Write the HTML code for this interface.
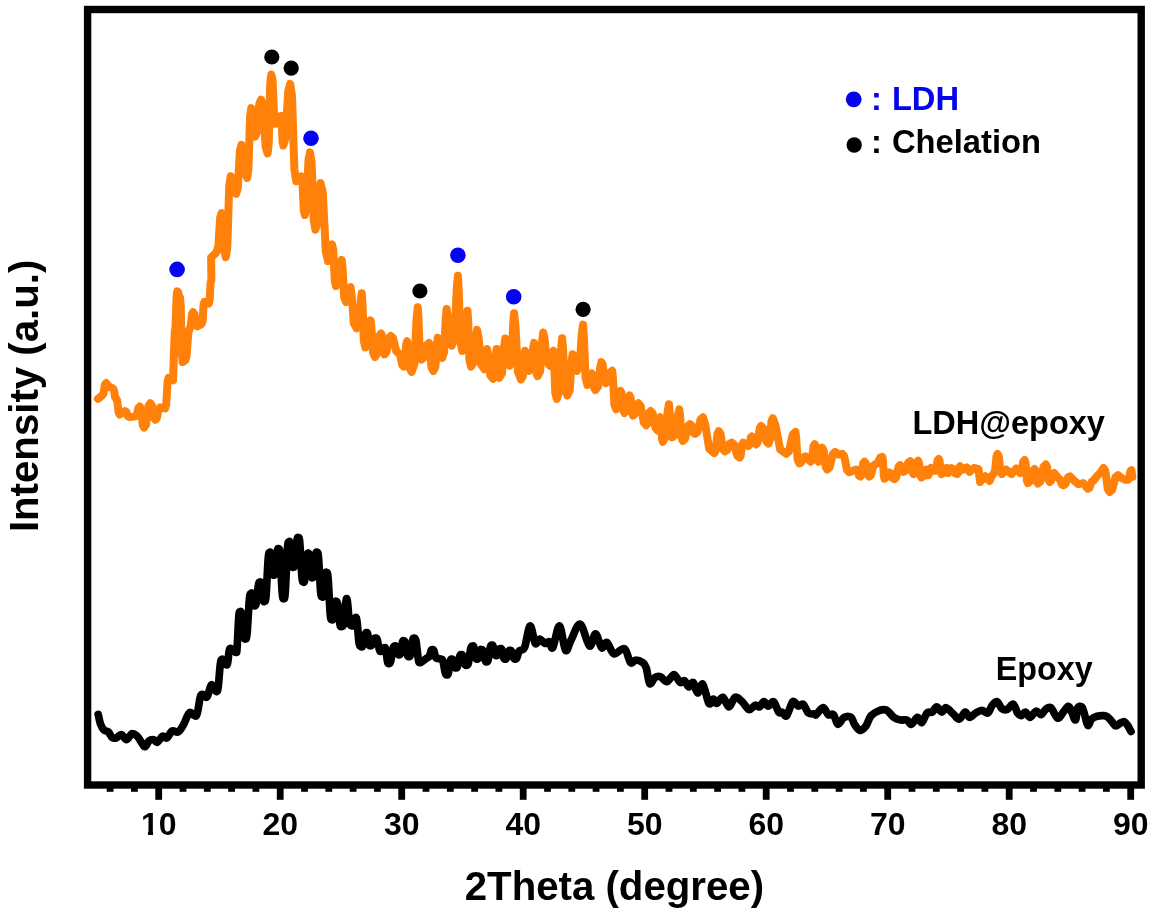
<!DOCTYPE html>
<html><head><meta charset="utf-8"><title>XRD</title>
<style>
html,body{margin:0;padding:0;background:#fff;overflow:hidden;}
svg{display:block;}
text{font-family:"Liberation Sans",Arial,Helvetica,sans-serif;font-weight:bold;fill:#000;}
</style></head><body>
<svg width="1162" height="916" viewBox="0 0 1162 916">
<rect width="1162" height="916" fill="#fff"/>
<path d="M98.2 714.4C98.6 716.0 99.5 721.4 100.5 724.0C101.4 726.6 102.7 728.8 104.0 730.1C105.3 731.4 107.0 730.7 108.3 731.9C109.7 733.0 110.5 736.1 111.8 737.1C113.1 738.1 114.6 738.4 116.2 738.0C117.8 737.6 119.7 734.2 121.4 734.5C123.2 734.8 124.9 739.9 126.7 739.7C128.4 739.6 130.2 734.2 131.9 733.6C133.7 733.0 135.6 734.8 137.2 736.2C138.8 737.7 140.2 740.6 141.5 742.4C142.8 744.1 143.7 747.0 145.0 746.7C146.3 746.4 147.9 741.8 149.4 740.6C150.8 739.4 152.4 739.4 153.8 739.7C155.1 740.0 155.8 742.9 157.2 742.4C158.7 741.8 160.9 737.0 162.5 736.2C164.1 735.5 165.3 738.9 166.9 738.0C168.5 737.1 170.2 732.0 172.1 731.0C174.0 730.0 176.3 732.9 178.2 731.9C180.1 730.9 181.6 728.1 183.4 724.9C185.3 721.7 187.4 714.3 189.6 712.7C191.7 711.1 194.7 718.2 196.6 715.3C198.4 712.4 199.2 698.3 200.9 695.2C202.7 692.1 205.3 698.7 207.0 696.9C208.8 695.2 209.7 685.7 211.4 684.7C213.1 683.7 215.9 694.9 217.5 690.8C219.1 686.8 219.4 664.6 221.0 660.3C222.6 655.9 225.7 666.5 227.1 664.6C228.6 662.7 228.3 650.9 229.7 648.9C231.2 646.9 234.6 652.6 235.9 652.4C237.1 652.2 236.6 653.5 237.1 647.5C237.6 641.6 238.3 622.6 238.8 616.6C239.3 610.6 239.6 612.0 240.1 611.7C240.6 611.4 241.0 611.0 241.7 615.0C242.3 619.0 243.1 631.6 243.8 635.6C244.4 639.6 244.8 639.2 245.3 638.9C245.9 638.5 246.4 640.1 247.1 633.4C247.7 626.7 248.7 605.5 249.4 598.8C250.0 592.2 250.6 594.0 251.1 593.4C251.6 592.7 251.8 593.0 252.2 594.9C252.7 596.7 253.3 602.4 253.8 604.2C254.2 606.0 254.5 605.9 254.9 605.7C255.4 605.4 255.8 606.3 256.4 602.8C257.0 599.4 257.8 588.3 258.4 584.9C258.9 581.4 259.3 582.1 259.8 582.0C260.3 581.9 260.7 581.5 261.2 584.3C261.8 587.2 262.6 596.2 263.1 599.0C263.7 601.8 264.0 601.9 264.5 601.3C265.0 600.7 265.5 602.6 266.1 595.4C266.7 588.2 267.6 565.4 268.2 558.2C268.8 551.0 269.3 552.9 269.8 552.3C270.3 551.8 270.6 551.7 271.1 555.1C271.6 558.4 272.3 569.0 272.8 572.4C273.3 575.7 273.7 575.2 274.1 575.1C274.6 575.0 274.9 575.8 275.5 571.9C276.0 568.1 276.7 555.8 277.2 552.0C277.7 548.1 278.0 548.4 278.5 548.8C279.0 549.3 279.5 547.5 280.1 554.8C280.7 562.1 281.6 585.4 282.2 592.7C282.8 600.0 283.2 598.8 283.8 598.7C284.3 598.5 284.7 600.2 285.3 591.9C285.9 583.5 286.8 557.0 287.4 548.7C288.0 540.3 288.5 542.5 289.0 541.8C289.5 541.2 289.8 541.2 290.3 544.9C290.8 548.6 291.5 560.5 292.1 564.2C292.6 567.9 292.9 567.3 293.4 567.2C293.8 567.1 294.3 568.0 294.8 563.7C295.4 559.3 296.2 545.4 296.8 541.1C297.4 536.7 297.7 537.2 298.3 537.5C298.8 537.8 299.2 536.3 299.8 542.8C300.4 549.4 301.3 570.2 301.9 576.7C302.5 583.3 303.0 581.8 303.5 582.1C304.0 582.4 304.4 582.9 304.9 578.6C305.5 574.4 306.2 560.9 306.8 556.7C307.3 552.4 307.8 553.3 308.2 553.2C308.6 553.1 308.9 552.5 309.4 556.1C309.9 559.7 310.6 571.2 311.0 574.8C311.5 578.4 311.8 577.7 312.2 577.7C312.7 577.7 313.1 578.4 313.6 574.7C314.2 570.9 315.0 559.1 315.5 555.4C316.1 551.7 316.4 551.9 316.9 552.3C317.4 552.7 317.9 551.1 318.5 557.7C319.1 564.2 320.0 585.0 320.6 591.6C321.2 598.1 321.7 596.5 322.2 596.9C322.7 597.3 323.0 597.6 323.5 594.0C324.0 590.4 324.7 579.0 325.2 575.4C325.7 571.8 326.1 572.0 326.6 572.4C327.0 572.9 327.5 571.2 328.1 578.1C328.7 585.0 329.6 607.0 330.2 614.0C330.8 620.9 331.3 619.1 331.8 619.6C332.3 620.2 332.6 620.1 333.1 617.4C333.6 614.7 334.3 606.1 334.8 603.4C335.4 600.7 335.7 601.1 336.2 601.2C336.6 601.4 337.1 600.6 337.7 604.3C338.3 608.0 339.2 619.9 339.8 623.6C340.4 627.3 340.7 626.7 341.4 626.6C342.1 626.6 343.1 627.0 343.8 623.3C344.5 619.5 345.1 608.3 345.6 604.2C346.1 600.1 346.3 598.6 346.6 598.6C347.0 598.6 347.2 600.1 347.7 604.0C348.2 608.0 348.8 618.9 349.5 622.5C350.2 626.1 351.3 625.4 351.9 625.8C352.5 626.1 352.7 626.0 353.2 624.8C353.7 623.6 354.4 619.9 354.9 618.8C355.4 617.6 355.9 617.0 356.2 617.8C356.6 618.6 356.8 619.4 357.3 623.6C357.8 627.8 358.4 639.4 359.1 643.2C359.8 647.1 360.8 646.4 361.5 646.7C362.1 647.0 362.4 647.1 363.1 645.0C363.7 643.0 364.5 636.4 365.2 634.4C365.8 632.3 366.3 632.7 366.7 632.7C367.2 632.7 367.4 632.3 367.8 634.3C368.2 636.2 368.8 642.3 369.2 644.3C369.6 646.2 369.8 645.7 370.2 645.8C370.7 645.9 371.2 646.0 371.9 644.9C372.5 643.8 373.4 640.2 374.1 639.1C374.7 637.9 375.2 638.0 375.7 638.1C376.3 638.2 376.7 637.8 377.3 639.7C377.9 641.6 378.8 647.8 379.4 649.7C380.0 651.6 380.1 651.6 381.0 651.3C381.8 651.0 383.7 648.0 384.5 647.7C385.3 647.5 385.3 647.3 385.8 649.6C386.3 652.0 387.0 659.3 387.5 661.6C388.0 663.9 388.3 663.6 388.8 663.5C389.3 663.5 389.9 664.0 390.7 661.4C391.4 658.8 392.4 650.7 393.1 648.1C393.8 645.5 394.4 646.2 394.9 646.0C395.5 645.8 395.7 645.8 396.2 647.1C396.8 648.3 397.5 652.4 398.0 653.7C398.5 655.0 398.9 654.9 399.3 654.8C399.7 654.7 400.1 655.2 400.6 653.1C401.1 651.0 401.8 644.5 402.4 642.4C402.9 640.4 403.2 640.7 403.7 640.8C404.1 640.8 404.6 640.3 405.2 642.6C405.9 645.0 406.7 652.3 407.3 654.6C407.9 657.0 408.4 656.6 408.9 656.5C409.4 656.5 409.9 657.0 410.5 654.3C411.1 651.6 412.0 643.0 412.6 640.3C413.2 637.6 413.6 638.0 414.1 638.1C414.7 638.3 415.3 637.5 416.0 641.1C416.7 644.7 417.7 656.1 418.4 659.7C419.1 663.3 419.1 662.8 420.3 662.7C421.4 662.5 424.2 660.0 425.5 659.1C426.8 658.2 427.5 657.8 428.1 657.4C428.8 657.0 428.9 657.6 429.4 656.5C429.9 655.3 430.7 651.6 431.2 650.4C431.7 649.3 432.1 649.5 432.5 649.5C432.9 649.5 433.3 649.3 433.8 650.5C434.3 651.8 435.0 655.9 435.5 657.2C436.1 658.5 435.9 658.0 436.9 658.3C437.8 658.6 440.2 658.6 441.2 659.1C442.2 659.5 442.3 658.7 443.0 661.0C443.6 663.3 444.6 670.7 445.3 673.0C445.9 675.3 446.5 674.9 447.0 674.9C447.5 674.9 447.9 675.3 448.4 673.0C449.0 670.7 449.7 663.3 450.3 661.0C450.8 658.7 451.2 659.2 451.7 659.1C452.2 659.0 452.5 658.9 453.0 660.2C453.5 661.4 454.3 665.5 454.8 666.8C455.3 668.1 455.6 668.0 456.1 667.9C456.6 667.8 457.0 668.2 457.6 666.3C458.3 664.4 459.1 658.2 459.7 656.3C460.3 654.4 460.8 654.8 461.3 654.7C461.8 654.7 462.3 654.4 462.9 656.0C463.5 657.5 464.4 662.5 465.0 664.0C465.6 665.6 466.0 665.4 466.6 665.3C467.1 665.1 467.7 665.8 468.4 663.0C469.1 660.1 470.1 651.1 470.8 648.3C471.5 645.5 472.1 646.1 472.7 646.0C473.2 645.9 473.5 645.6 474.0 647.6C474.5 649.5 475.2 655.6 475.7 657.6C476.2 659.5 476.6 659.1 477.0 659.2C477.5 659.2 477.8 659.4 478.3 658.0C478.9 656.6 479.6 652.1 480.1 650.6C480.6 649.2 480.9 649.4 481.4 649.5C481.9 649.5 482.4 649.2 483.0 651.0C483.6 652.8 484.5 658.5 485.1 660.3C485.7 662.1 486.1 661.9 486.6 661.8C487.2 661.7 487.6 662.2 488.2 659.8C488.8 657.3 489.7 649.6 490.3 647.1C490.9 644.7 491.4 645.2 491.9 645.1C492.4 645.0 492.7 644.8 493.2 646.4C493.7 647.9 494.4 652.9 494.9 654.4C495.4 655.9 495.8 655.6 496.2 655.7C496.7 655.7 497.0 655.9 497.6 654.8C498.1 653.8 498.8 650.5 499.3 649.5C499.8 648.4 500.2 648.5 500.6 648.6C501.0 648.7 501.4 648.3 501.9 649.9C502.4 651.4 503.2 656.3 503.7 657.9C504.2 659.4 504.5 659.1 505.0 659.2C505.4 659.2 505.9 659.4 506.5 658.1C507.1 656.8 507.9 652.7 508.5 651.4C509.1 650.1 509.5 650.4 510.0 650.3C510.5 650.3 511.0 650.1 511.6 651.4C512.2 652.7 513.1 656.8 513.7 658.0C514.3 659.3 514.7 659.1 515.2 659.1C515.8 659.1 516.2 659.3 516.8 658.0C517.4 656.8 518.3 652.7 518.9 651.4C519.5 650.1 519.5 651.1 520.5 650.3C521.5 649.6 523.2 650.9 524.8 646.9C526.4 642.8 528.3 626.5 530.1 625.9C531.8 625.3 533.7 641.2 535.3 643.4C536.9 645.5 538.1 639.0 539.7 639.0C541.3 639.0 543.3 642.9 544.9 643.4C546.5 643.8 548.0 640.9 549.3 641.6C550.6 642.3 551.1 650.3 552.8 647.7C554.5 645.1 557.3 625.5 559.4 625.9C561.6 626.3 563.6 648.0 565.5 650.3C567.5 652.7 568.7 644.2 571.1 639.9C573.6 635.5 577.2 623.1 580.2 624.1C583.3 625.2 586.9 644.4 589.5 646.0C592.0 647.6 593.6 633.5 595.6 633.8C597.6 634.0 599.8 646.3 601.7 647.7C603.6 649.2 604.9 641.5 606.9 642.5C609.0 643.5 611.0 652.8 613.9 653.8C616.8 654.9 621.6 647.1 624.4 648.6C627.2 650.1 628.6 660.7 630.5 662.6C632.4 664.5 633.7 660.0 635.8 660.0C637.8 660.0 641.0 661.3 642.8 662.6C644.5 663.9 645.1 664.3 646.2 667.8C647.4 671.3 648.3 681.9 649.7 683.5C651.2 685.1 653.2 678.6 655.0 677.4C656.7 676.3 658.2 675.9 660.2 676.6C662.2 677.2 664.7 681.9 667.0 681.6C669.3 681.3 671.8 674.5 674.0 674.6C676.2 674.8 678.3 681.5 680.1 682.5C681.8 683.5 683.0 680.0 684.5 680.7C685.9 681.5 687.4 686.6 688.8 686.9C690.3 687.1 691.7 681.5 693.2 682.5C694.6 683.5 696.0 692.7 697.6 693.0C699.2 693.3 700.9 682.5 702.8 684.2C704.7 686.0 707.2 701.0 708.9 703.4C710.7 705.9 712.0 699.1 713.3 699.1C714.6 699.1 715.2 703.7 716.8 703.4C718.4 703.2 720.8 696.8 722.9 697.3C724.9 697.9 727.0 706.9 729.0 706.9C731.0 706.9 732.9 698.2 735.1 697.3C737.3 696.5 739.8 699.7 742.1 701.7C744.4 703.7 746.9 709.0 749.1 709.6C751.3 710.1 753.4 705.6 755.2 705.2C756.9 704.8 758.1 707.5 759.6 706.9C761.0 706.4 762.5 701.8 763.9 701.7C765.4 701.6 766.7 706.1 768.3 706.1C769.9 706.1 771.8 700.7 773.5 701.7C775.3 702.7 777.3 710.4 778.8 712.2C780.2 713.9 781.0 711.6 782.3 712.2C783.6 712.8 784.9 717.4 786.6 715.7C788.4 713.9 790.9 703.3 792.8 701.7C794.6 700.1 796.2 705.6 798.0 706.1C799.7 706.5 801.5 703.2 803.2 704.3C805.0 705.5 806.4 711.5 808.5 713.1C810.5 714.7 814.2 713.7 815.5 713.9C816.7 714.2 814.8 715.7 816.1 714.7C817.4 713.7 821.1 707.7 823.1 707.7C825.1 707.7 826.6 713.6 828.3 714.7C830.1 715.9 832.0 713.1 833.6 714.7C835.2 716.3 836.2 723.9 837.9 724.3C839.7 724.8 841.9 718.5 844.1 717.3C846.2 716.2 849.3 716.2 851.0 717.3C852.8 718.5 853.1 722.1 854.5 724.3C856.0 726.5 857.9 730.1 859.8 730.4C861.7 730.7 864.0 728.5 865.9 726.1C867.8 723.6 868.8 718.2 871.1 715.6C873.5 713.0 877.2 711.2 879.9 710.3C882.5 709.5 884.5 709.2 886.9 710.3C889.2 711.5 891.5 715.7 893.8 717.3C896.2 718.9 898.6 719.5 900.8 720.0C903.0 720.4 905.2 719.2 906.9 720.0C908.7 720.7 909.6 724.8 911.3 724.3C913.1 723.9 915.7 717.6 917.4 717.3C919.2 717.0 920.2 723.3 921.8 722.6C923.4 721.8 925.3 714.7 927.0 713.0C928.8 711.2 930.7 713.1 932.3 712.1C933.9 711.1 935.0 706.9 936.6 706.9C938.2 706.9 940.3 712.0 941.9 712.1C943.5 712.2 944.4 707.4 946.2 707.7C948.1 708.0 951.0 712.0 953.2 713.8C955.4 715.7 957.3 719.4 959.3 719.1C961.3 718.8 963.5 712.4 965.2 712.1C967.0 711.8 967.9 717.2 969.6 717.3C971.4 717.5 973.7 714.1 975.7 713.0C977.8 711.8 979.8 710.3 981.8 710.3C983.9 710.3 986.2 713.8 987.9 713.0C989.7 712.1 990.8 707.0 992.3 705.1C993.8 703.2 995.4 701.0 997.0 701.6C998.6 702.2 1000.2 707.3 1001.9 708.6C1003.6 709.9 1005.3 710.2 1007.2 709.5C1009.1 708.7 1011.5 703.7 1013.3 704.2C1015.0 704.8 1016.3 711.1 1017.6 713.0C1019.0 714.9 1019.8 715.7 1021.1 715.6C1022.4 715.4 1024.0 711.8 1025.5 712.1C1027.0 712.4 1028.1 717.5 1029.9 717.3C1031.6 717.2 1034.1 711.7 1036.0 711.2C1037.9 710.8 1039.6 715.0 1041.2 714.7C1042.8 714.4 1044.0 710.6 1045.6 709.5C1047.2 708.3 1048.8 706.3 1050.8 707.7C1052.9 709.2 1055.6 717.6 1057.8 718.2C1060.0 718.8 1062.0 713.1 1063.9 711.2C1065.8 709.3 1067.3 705.4 1069.2 706.9C1071.1 708.3 1073.9 719.8 1075.3 720.0C1076.7 720.2 1076.4 710.2 1077.5 708.0C1078.6 705.9 1080.7 705.9 1081.8 706.9C1083.0 708.0 1083.6 711.5 1084.6 714.6C1085.6 717.7 1086.7 724.8 1087.8 725.5C1089.0 726.2 1090.1 720.5 1091.7 719.0C1093.2 717.4 1095.1 716.8 1097.1 716.2C1099.1 715.7 1101.8 715.5 1103.7 715.7C1105.5 715.9 1106.6 716.2 1108.0 717.3C1109.5 718.4 1111.1 720.8 1112.4 722.2C1113.7 723.7 1114.4 725.9 1115.7 726.0C1117.0 726.2 1118.6 724.0 1120.0 723.3C1121.5 722.6 1123.1 721.3 1124.4 721.7C1125.7 722.0 1126.6 723.9 1127.7 725.5C1128.8 727.1 1130.4 730.5 1131.0 731.5" fill="none" stroke="#000" stroke-width="7.7" stroke-linejoin="round" stroke-linecap="round"/>
<path d="M97.9 398.8 L102.2 395.3 L103.4 393.8 L104.9 384.5 L106.1 383.1 L109.2 386.6 L112.7 388.3 L113.8 389.6 L115.2 397.5 L116.2 398.8 L117.2 400.7 L118.6 412.6 L119.7 414.5 L124.9 411.0 L126.2 411.7 L128.0 416.4 L129.3 417.1 L135.4 416.2 L136.7 415.1 L138.5 407.8 L139.8 406.6 L141.1 409.2 L142.8 425.1 L144.1 427.6 L146.0 424.7 L148.4 406.1 L150.3 403.1 L151.8 405.1 L153.9 417.7 L155.5 419.7 L156.8 418.3 L158.6 409.0 L159.9 407.5 L165.1 408.4 L166.2 404.7 L167.6 381.5 L168.6 377.8 L173.0 380.4 L174.7 332.4 L175.5 327.5 L176.6 296.3 L177.3 291.4 L178.1 292.1 L179.2 296.7 L180.0 297.5 L180.7 305.2 L181.8 354.3 L182.6 362.1 L185.2 360.3 L186.5 356.6 L188.3 332.7 L189.6 328.9 L190.6 326.9 L192.0 314.3 L193.1 312.3 L194.4 314.0 L196.1 324.6 L197.4 326.3 L201.8 323.7 L202.6 321.0 L203.6 304.5 L204.4 301.8 L208.8 303.6 L209.6 300.8 L210.6 282.8 L211.4 280.0 L211.1 257.5 L215.8 253.1 L217.0 250.5 L218.4 246.0 L220.2 217.5 L221.6 213.0 L222.9 218.3 L224.5 251.9 L225.8 257.2 L227.3 247.5 L229.2 186.0 L230.7 176.3 L232.3 178.4 L234.5 191.7 L236.2 193.8 L237.8 187.9 L239.9 150.7 L241.5 144.8 L243.2 148.8 L245.5 174.0 L247.2 178.0 L248.4 169.6 L250.1 116.5 L251.3 108.1 L252.5 111.5 L254.0 133.2 L255.2 136.6 L257.0 132.2 L259.3 104.0 L261.1 99.6 L263.1 106.0 L265.7 146.9 L267.6 153.3 L268.7 143.8 L270.2 84.0 L271.3 74.5 L272.6 80.4 L274.2 117.9 L275.5 123.8 L277.1 122.9 L279.1 116.9 L280.7 116.0 L281.5 119.5 L282.6 142.0 L283.4 145.5 L285.4 138.1 L288.2 91.3 L290.2 83.9 L292.0 95.6 L294.4 169.5 L296.2 181.2 L301.4 176.5 L302.4 181.1 L303.8 210.4 L304.9 215.0 L306.4 207.5 L308.5 159.9 L310.0 152.4 L311.6 161.7 L313.8 220.3 L315.4 229.6 L317.0 224.0 L319.0 188.8 L320.6 183.2 L322.8 192.5 L325.8 251.7 L328.0 261.0 L329.2 259.0 L330.8 246.4 L332.0 244.4 L333.2 249.4 L334.8 281.0 L336.0 286.0 L337.7 282.9 L340.0 263.1 L341.7 260.0 L342.6 268.4 L344.1 297.0 L346.1 302.0 L347.4 300.2 L349.2 288.9 L350.5 287.1 L351.7 295.3 L353.8 323.3 L356.6 328.2 L359.0 324.0 L360.8 300.2 L361.8 293.2 L362.5 304.0 L363.8 340.9 L365.3 347.4 L367.7 344.2 L369.5 325.7 L370.6 320.3 L371.4 327.6 L373.0 352.6 L374.9 357.0 L376.8 354.2 L379.2 336.2 L381.0 333.4 L382.1 335.9 L383.5 351.9 L384.5 354.4 L386.4 352.2 L388.8 338.2 L390.7 336.0 L393.0 338.0 L396.2 351.0 L398.5 353.1 L400.1 354.7 L402.2 365.0 L403.8 366.6 L404.8 363.6 L406.2 344.3 L407.2 341.2 L408.1 347.4 L409.7 368.2 L411.6 371.9 L414.4 364.1 L416.5 320.1 L417.7 307.2 L418.5 317.7 L419.8 353.3 L421.6 359.6 L423.8 357.6 L426.8 345.0 L429.1 343.0 L430.0 348.6 L431.5 367.6 L433.4 371.0 L435.4 367.0 L436.9 344.4 L437.8 337.7 L439.1 340.2 L440.9 355.5 L442.2 357.9 L444.1 352.0 L445.7 318.7 L446.6 308.9 L447.6 316.3 L449.4 341.3 L451.8 345.7 L454.5 337.3 L456.7 289.7 L457.9 275.7 L458.8 290.8 L460.3 341.9 L462.3 350.9 L464.6 346.1 L466.5 318.7 L467.5 310.7 L468.2 321.9 L469.4 359.9 L471.0 366.6 L473.8 362.2 L475.9 337.2 L477.1 329.9 L478.6 337.7 L481.1 364.4 L484.4 369.2 L485.2 366.7 L486.2 351.4 L487.0 349.0 L488.2 355.0 L490.3 375.2 L493.1 378.8 L494.7 375.2 L495.9 355.0 L496.6 349.0 L497.1 354.8 L498.0 374.4 L499.2 377.9 L502.0 373.2 L504.1 346.4 L505.3 338.5 L506.2 344.0 L507.7 362.4 L509.7 365.7 L511.7 359.4 L513.2 323.7 L514.1 313.2 L515.5 326.5 L517.9 371.7 L521.0 379.6 L522.9 376.2 L524.3 356.5 L525.1 350.8 L526.2 353.2 L527.8 368.5 L528.9 370.9 L531.3 367.5 L533.1 348.5 L534.1 342.9 L534.8 349.5 L536.1 372.2 L537.6 376.1 L540.2 370.9 L542.1 341.2 L543.2 332.4 L544.6 339.1 L546.9 361.7 L549.9 365.7 L550.9 363.9 L552.3 352.5 L553.4 350.8 L554.1 360.4 L555.3 393.1 L556.9 398.9 L559.2 391.6 L561.0 350.3 L562.1 338.2 L563.1 349.6 L565.0 388.5 L567.3 395.4 L569.7 390.4 L571.5 362.5 L572.6 354.2 L573.9 356.2 L575.6 368.9 L576.9 370.9 L579.7 365.3 L581.8 333.8 L583.1 324.6 L583.9 336.6 L585.5 377.6 L587.4 384.9 L588.7 383.5 L590.5 374.8 L591.8 373.5 L592.8 375.5 L594.2 388.1 L595.3 390.1 L598.0 386.8 L600.2 367.7 L601.4 362.1 L602.7 364.6 L604.5 380.6 L605.8 383.1 L607.7 381.7 L610.3 372.3 L612.2 370.8 L613.0 378.5 L614.4 404.7 L616.2 409.3 L617.6 407.1 L619.3 393.1 L620.6 390.9 L621.7 393.6 L623.2 410.3 L624.4 413.0 L625.9 410.9 L628.0 397.5 L629.6 395.4 L630.7 397.8 L632.1 413.2 L633.1 415.6 L634.7 414.1 L636.8 404.8 L638.3 403.3 L640.7 405.9 L643.8 422.6 L646.2 425.2 L647.5 423.5 L649.3 412.8 L650.6 411.1 L652.7 413.5 L655.5 428.1 L657.6 430.4 L658.3 428.8 L659.4 418.8 L660.2 417.3 L661.0 420.2 L662.0 438.8 L662.8 441.8 L665.5 437.3 L667.7 411.7 L668.9 404.2 L669.6 410.8 L670.8 433.4 L672.4 437.4 L675.5 434.0 L678.0 415.0 L679.4 409.4 L680.1 415.7 L681.3 437.1 L682.9 440.9 L685.0 438.9 L687.8 426.2 L689.9 424.2 L691.4 425.4 L693.5 432.8 L695.1 433.9 L697.5 431.9 L700.6 419.3 L703.0 417.3 L705.2 424.4 L709.2 448.8 L714.3 453.1 L715.6 450.5 L717.4 433.9 L718.7 431.2 L720.5 433.7 L723.0 449.0 L724.8 451.4 L726.9 450.3 L729.7 443.6 L731.8 442.6 L734.1 444.4 L737.3 455.7 L739.7 457.5 L740.7 455.7 L742.1 444.4 L743.1 442.6 L748.4 446.1 L749.4 445.0 L750.8 437.6 L751.9 436.5 L753.2 437.4 L754.9 443.4 L756.2 444.4 L757.7 442.2 L759.7 428.2 L761.1 426.0 L763.3 428.1 L766.3 441.4 L768.5 443.5 L769.8 440.5 L771.5 421.2 L772.8 418.1 L775.5 425.3 L780.2 449.5 L786.2 453.8 L789.0 451.2 L792.7 434.6 L795.5 431.9 L796.2 438.2 L797.6 459.7 L799.3 463.4 L801.1 462.6 L803.6 457.2 L805.4 456.4 L810.7 461.7 L811.9 459.6 L813.5 446.3 L814.7 444.2 L815.8 446.3 L817.4 459.6 L818.5 461.7 L819.6 460.0 L821.0 449.3 L822.0 447.7 L823.6 450.3 L825.7 466.9 L827.2 469.5 L829.6 467.4 L832.8 454.1 L835.1 452.0 L838.6 454.7 L842.1 453.8 L844.2 456.0 L847.0 470.0 L849.1 472.2 L856.1 469.5 L857.4 470.3 L859.1 475.7 L860.4 476.5 L861.6 474.7 L863.2 463.4 L864.5 461.6 L865.9 463.4 L867.8 474.7 L869.2 476.5 L871.0 475.1 L873.4 465.7 L875.3 464.2 L877.4 463.4 L880.2 457.7 L882.2 456.8 L882.9 459.4 L883.8 476.0 L884.5 478.6 L885.8 477.9 L887.6 473.2 L889.0 472.4 L890.6 473.2 L892.9 478.4 L894.5 479.2 L896.2 477.5 L898.5 466.8 L900.1 465.2 L901.1 466.0 L902.5 471.1 L903.5 471.9 L905.5 470.6 L908.2 462.5 L910.2 461.2 L911.2 462.8 L912.6 472.6 L913.6 474.1 L914.9 472.5 L916.7 462.3 L918.0 460.7 L919.0 462.7 L920.4 475.5 L921.4 477.5 L922.7 476.6 L924.5 470.6 L925.9 469.6 L928.1 475.3 L928.9 474.4 L930.1 468.8 L930.9 468.0 L934.8 470.8 L936.0 469.4 L937.6 460.4 L938.7 459.0 L939.6 460.8 L940.7 472.3 L941.5 474.1 L942.9 473.4 L944.7 468.7 L946.0 468.0 L948.2 473.0 L951.0 468.0 L952.9 468.7 L955.3 473.4 L957.2 474.1 L958.0 473.2 L959.2 467.2 L960.0 466.3 L962.8 469.7 L966.7 467.4 L969.5 471.9 L974.0 468.0 L978.5 469.1 L980.1 482.0 L985.2 476.3 L989.6 480.9 L991.9 475.8 L994.1 473.0 L995.1 470.7 L996.5 456.3 L997.5 454.0 L998.8 456.4 L1000.6 471.7 L1001.9 474.1 L1006.1 469.6 L1011.7 474.1 L1016.2 468.5 L1020.1 473.0 L1021.4 471.5 L1023.2 461.7 L1024.6 460.1 L1025.6 462.9 L1026.9 480.3 L1027.9 483.1 L1029.9 481.4 L1032.6 470.8 L1034.6 469.1 L1035.7 470.8 L1037.0 481.9 L1038.0 483.6 L1040.4 481.4 L1043.5 466.9 L1045.8 464.6 L1047.0 466.7 L1048.6 479.9 L1049.8 482.0 L1051.1 480.9 L1052.9 474.1 L1054.2 473.0 L1058.7 478.6 L1060.0 479.4 L1061.8 484.5 L1063.2 485.3 L1065.2 484.2 L1067.9 477.4 L1069.9 476.3 L1074.4 480.9 L1078.3 484.2 L1083.3 483.1 L1087.8 488.7 L1089.5 487.7 L1091.7 481.8 L1093.4 480.8 L1096.7 476.3 L1100.1 473.0 L1103.5 468.0 L1105.3 470.8 L1107.8 489.1 L1109.6 492.0 L1112.1 490.0 L1115.5 477.2 L1118.0 475.2 L1122.5 478.6 L1125.3 479.7 L1128.1 479.7 L1129.1 478.6 L1130.4 471.3 L1131.4 470.2 L1132.3 476.9" fill="none" stroke="#ff810a" stroke-width="8" stroke-linejoin="round" stroke-linecap="round"/>
<rect x="87.6" y="9.5" width="1053.6" height="775.5" fill="none" stroke="#000" stroke-width="7.4"/>
<g fill="#000"><rect x="106.7" y="785" width="6.8" height="6.8"/><rect x="131.0" y="785" width="6.8" height="6.8"/><rect x="155.3" y="785" width="6.8" height="14.8"/><rect x="179.6" y="785" width="6.8" height="6.8"/><rect x="203.9" y="785" width="6.8" height="6.8"/><rect x="228.2" y="785" width="6.8" height="6.8"/><rect x="252.5" y="785" width="6.8" height="6.8"/><rect x="276.8" y="785" width="6.8" height="14.8"/><rect x="301.1" y="785" width="6.8" height="6.8"/><rect x="325.4" y="785" width="6.8" height="6.8"/><rect x="349.7" y="785" width="6.8" height="6.8"/><rect x="374.0" y="785" width="6.8" height="6.8"/><rect x="398.3" y="785" width="6.8" height="14.8"/><rect x="422.6" y="785" width="6.8" height="6.8"/><rect x="446.9" y="785" width="6.8" height="6.8"/><rect x="471.2" y="785" width="6.8" height="6.8"/><rect x="495.5" y="785" width="6.8" height="6.8"/><rect x="519.8" y="785" width="6.8" height="14.8"/><rect x="544.1" y="785" width="6.8" height="6.8"/><rect x="568.4" y="785" width="6.8" height="6.8"/><rect x="592.7" y="785" width="6.8" height="6.8"/><rect x="617.0" y="785" width="6.8" height="6.8"/><rect x="641.3" y="785" width="6.8" height="14.8"/><rect x="665.6" y="785" width="6.8" height="6.8"/><rect x="689.9" y="785" width="6.8" height="6.8"/><rect x="714.2" y="785" width="6.8" height="6.8"/><rect x="738.5" y="785" width="6.8" height="6.8"/><rect x="762.8" y="785" width="6.8" height="14.8"/><rect x="787.1" y="785" width="6.8" height="6.8"/><rect x="811.4" y="785" width="6.8" height="6.8"/><rect x="835.7" y="785" width="6.8" height="6.8"/><rect x="860.0" y="785" width="6.8" height="6.8"/><rect x="884.3" y="785" width="6.8" height="14.8"/><rect x="908.6" y="785" width="6.8" height="6.8"/><rect x="932.9" y="785" width="6.8" height="6.8"/><rect x="957.2" y="785" width="6.8" height="6.8"/><rect x="981.5" y="785" width="6.8" height="6.8"/><rect x="1005.8" y="785" width="6.8" height="14.8"/><rect x="1030.1" y="785" width="6.8" height="6.8"/><rect x="1054.4" y="785" width="6.8" height="6.8"/><rect x="1078.7" y="785" width="6.8" height="6.8"/><rect x="1103.0" y="785" width="6.8" height="6.8"/><rect x="1127.3" y="785" width="6.8" height="14.8"/></g>
<text x="158.7" y="835.2" text-anchor="middle" font-size="32">10</text><text x="280.2" y="835.2" text-anchor="middle" font-size="32">20</text><text x="401.7" y="835.2" text-anchor="middle" font-size="32">30</text><text x="523.2" y="835.2" text-anchor="middle" font-size="32">40</text><text x="644.7" y="835.2" text-anchor="middle" font-size="32">50</text><text x="766.2" y="835.2" text-anchor="middle" font-size="32">60</text><text x="887.7" y="835.2" text-anchor="middle" font-size="32">70</text><text x="1009.2" y="835.2" text-anchor="middle" font-size="32">80</text><text x="1130.7" y="835.2" text-anchor="middle" font-size="32">90</text>
<rect x="142" y="830.7" width="5.95" height="5.3" fill="#fff"/><rect x="153.05" y="830.7" width="5.6" height="5.3" fill="#fff"/>
<g fill="#0404ee"><circle cx="177.1" cy="269.4" r="7.8"/><circle cx="311" cy="138.2" r="7.8"/><circle cx="457.9" cy="255.2" r="7.8"/><circle cx="513.7" cy="296.7" r="7.8"/><circle cx="853.7" cy="99.3" r="7.9"/></g>
<g fill="#000"><circle cx="271.8" cy="57" r="7.6"/><circle cx="291.2" cy="68.2" r="7.6"/><circle cx="419.9" cy="291" r="7.6"/><circle cx="583.1" cy="309.3" r="7.6"/><circle cx="854.2" cy="145" r="7.7"/></g>
<text x="871" y="110.4" font-size="32.7" style="fill:#0404ee">:</text><text x="891.9" y="110.4" font-size="32.7" style="fill:#0404ee">LDH</text>
<text x="871" y="153.1" font-size="32.7">:</text><text x="892" y="153.1" font-size="32.7">Chelation</text>
<text x="912.5" y="433.9" font-size="32.5">LDH@epoxy</text>
<text x="995.8" y="679.9" font-size="32.3">Epoxy</text>
<text x="614.4" y="899.8" text-anchor="middle" font-size="40.2">2Theta (degree)</text>
<text transform="translate(37.6,395.9) rotate(-90)" text-anchor="middle" font-size="40.2">Intensity (a.u.)</text>
</svg>
</body></html>
